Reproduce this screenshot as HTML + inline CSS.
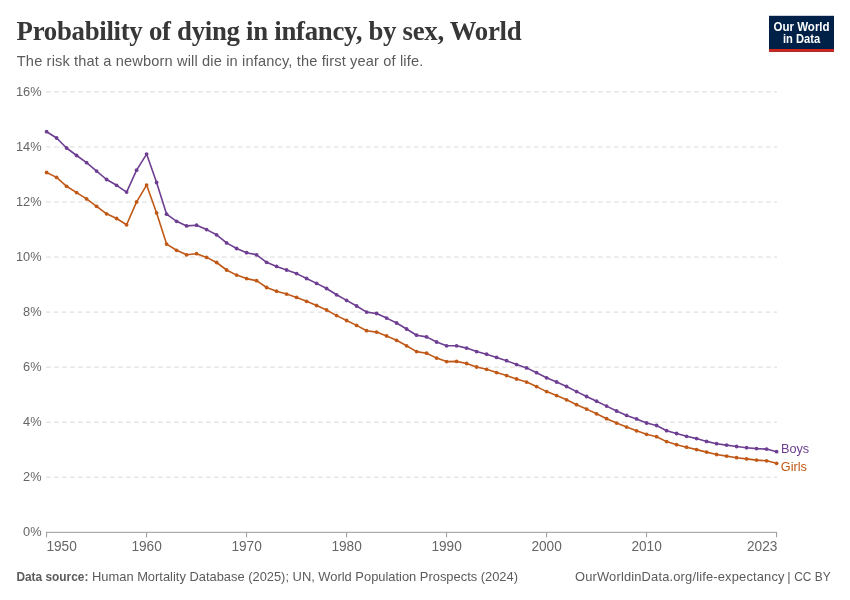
<!DOCTYPE html>
<html><head><meta charset="utf-8"><title>Probability of dying in infancy, by sex, World</title>
<style>
html,body{margin:0;padding:0;background:#fff;}
body{width:850px;height:600px;overflow:hidden;position:relative;font-family:"Liberation Sans",sans-serif;}
svg{position:absolute;left:0;top:0;will-change:transform;}
svg text{font-family:"Liberation Sans",sans-serif;}
.title{font-family:"Liberation Serif",serif;font-weight:bold;font-size:26.8px;fill:#373737;}
.sub{font-size:14.6px;fill:#5b5b5b;}
.ax text{font-size:14.1px;fill:#666;} .ax text.yl{font-size:12.8px;}
.grid line{stroke:#dbdbdb;stroke-width:1;stroke-dasharray:4.8,3.2;}
.axis line{stroke:#999;stroke-width:1;}
.foot{font-size:12.9px;fill:#5b5b5b;}
.logo text{font-size:12.2px;font-weight:bold;fill:#fff;}
</style></head><body>
<svg width="850" height="600" viewBox="0 0 850 600">
<rect width="850" height="600" fill="#fff"/>
<text class="title" x="16.6" y="40" textLength="505" lengthAdjust="spacing">Probability of dying in infancy, by sex, World</text>
<text class="sub" x="16.8" y="66.2" textLength="406.5" lengthAdjust="spacing">The risk that a newborn will die in infancy, the first year of life.</text>
<g class="logo"><rect x="769" y="15.8" width="65" height="36" fill="#002147"/><rect x="769" y="49" width="65" height="2.8" fill="#ce261e"/>
<text x="773.6" y="31" textLength="56" lengthAdjust="spacingAndGlyphs">Our World</text><text x="783" y="42.9" textLength="37.2" lengthAdjust="spacingAndGlyphs">in Data</text></g>
<g class="grid"><line x1="46" x2="777" y1="477.25" y2="477.25"/><line x1="46" x2="777" y1="422.20" y2="422.20"/><line x1="46" x2="777" y1="367.15" y2="367.15"/><line x1="46" x2="777" y1="312.10" y2="312.10"/><line x1="46" x2="777" y1="257.05" y2="257.05"/><line x1="46" x2="777" y1="202.00" y2="202.00"/><line x1="46" x2="777" y1="146.95" y2="146.95"/><line x1="46" x2="777" y1="91.90" y2="91.90"/></g>
<g class="ax"><text class="yl" x="41.6" y="536.40" text-anchor="end">0%</text><text class="yl" x="41.6" y="481.35" text-anchor="end">2%</text><text class="yl" x="41.6" y="426.30" text-anchor="end">4%</text><text class="yl" x="41.6" y="371.25" text-anchor="end">6%</text><text class="yl" x="41.6" y="316.20" text-anchor="end">8%</text><text class="yl" x="41.6" y="261.15" text-anchor="end">10%</text><text class="yl" x="41.6" y="206.10" text-anchor="end">12%</text><text class="yl" x="41.6" y="151.05" text-anchor="end">14%</text><text class="yl" x="41.6" y="96.00" text-anchor="end">16%</text><text x="46.4" y="551.0" text-anchor="start" textLength="30.4" lengthAdjust="spacingAndGlyphs">1950</text><text x="146.6" y="551.0" text-anchor="middle" textLength="30.4" lengthAdjust="spacingAndGlyphs">1960</text><text x="246.6" y="551.0" text-anchor="middle" textLength="30.4" lengthAdjust="spacingAndGlyphs">1970</text><text x="346.6" y="551.0" text-anchor="middle" textLength="30.4" lengthAdjust="spacingAndGlyphs">1980</text><text x="446.6" y="551.0" text-anchor="middle" textLength="30.4" lengthAdjust="spacingAndGlyphs">1990</text><text x="546.6" y="551.0" text-anchor="middle" textLength="30.4" lengthAdjust="spacingAndGlyphs">2000</text><text x="646.6" y="551.0" text-anchor="middle" textLength="30.4" lengthAdjust="spacingAndGlyphs">2010</text><text x="777.4" y="551.0" text-anchor="end" textLength="30.4" lengthAdjust="spacingAndGlyphs">2023</text></g>
<g class="axis"><line x1="46" x2="777" y1="532.3" y2="532.3"/><line x1="46.6" x2="46.6" y1="532.3" y2="537.3"/><line x1="146.6" x2="146.6" y1="532.3" y2="537.3"/><line x1="246.6" x2="246.6" y1="532.3" y2="537.3"/><line x1="346.6" x2="346.6" y1="532.3" y2="537.3"/><line x1="446.6" x2="446.6" y1="532.3" y2="537.3"/><line x1="546.6" x2="546.6" y1="532.3" y2="537.3"/><line x1="646.6" x2="646.6" y1="532.3" y2="537.3"/><line x1="776.6" x2="776.6" y1="532.3" y2="537.3"/></g>
<polyline fill="none" stroke="#c05917" stroke-width="1.6" stroke-linejoin="round" stroke-linecap="round" points="46.6,172.5 56.6,177.4 66.6,186.3 76.6,192.6 86.6,198.9 96.6,206.3 106.6,213.8 116.6,218.5 126.6,224.8 136.6,201.9 146.6,185.1 156.6,212.9 166.6,244.1 176.6,250.3 186.6,254.8 196.6,253.7 206.6,257.4 216.6,262.5 226.6,270.0 236.6,275.1 246.6,278.6 256.6,280.7 266.6,287.5 276.6,291.2 286.6,294.1 296.6,297.4 306.6,301.3 316.6,305.5 326.6,310.0 336.6,315.6 346.6,320.5 356.6,325.4 366.6,330.7 376.6,332.1 386.6,335.9 396.6,340.3 406.6,345.8 416.6,351.6 426.6,353.2 436.6,358.1 446.6,361.6 456.6,361.4 466.6,363.5 476.6,367.0 486.6,369.3 496.6,372.6 506.6,375.6 516.6,379.0 526.6,382.1 536.6,386.6 546.6,391.6 556.6,395.6 566.6,399.8 576.6,404.7 586.6,409.1 596.6,413.8 606.6,418.7 616.6,423.1 626.6,427.1 636.6,430.8 646.6,434.3 656.6,436.7 666.6,441.6 676.6,444.7 686.6,447.2 696.6,449.6 706.6,452.1 716.6,454.5 726.6,456.1 736.6,457.7 746.6,458.9 756.6,460.1 766.6,460.8 776.6,463.3"/>
<circle cx="46.6" cy="172.5" r="1.9" fill="#c05917"/><circle cx="56.6" cy="177.4" r="1.9" fill="#c05917"/><circle cx="66.6" cy="186.3" r="1.9" fill="#c05917"/><circle cx="76.6" cy="192.6" r="1.9" fill="#c05917"/><circle cx="86.6" cy="198.9" r="1.9" fill="#c05917"/><circle cx="96.6" cy="206.3" r="1.9" fill="#c05917"/><circle cx="106.6" cy="213.8" r="1.9" fill="#c05917"/><circle cx="116.6" cy="218.5" r="1.9" fill="#c05917"/><circle cx="126.6" cy="224.8" r="1.9" fill="#c05917"/><circle cx="136.6" cy="201.9" r="1.9" fill="#c05917"/><circle cx="146.6" cy="185.1" r="1.9" fill="#c05917"/><circle cx="156.6" cy="212.9" r="1.9" fill="#c05917"/><circle cx="166.6" cy="244.1" r="1.9" fill="#c05917"/><circle cx="176.6" cy="250.3" r="1.9" fill="#c05917"/><circle cx="186.6" cy="254.8" r="1.9" fill="#c05917"/><circle cx="196.6" cy="253.7" r="1.9" fill="#c05917"/><circle cx="206.6" cy="257.4" r="1.9" fill="#c05917"/><circle cx="216.6" cy="262.5" r="1.9" fill="#c05917"/><circle cx="226.6" cy="270.0" r="1.9" fill="#c05917"/><circle cx="236.6" cy="275.1" r="1.9" fill="#c05917"/><circle cx="246.6" cy="278.6" r="1.9" fill="#c05917"/><circle cx="256.6" cy="280.7" r="1.9" fill="#c05917"/><circle cx="266.6" cy="287.5" r="1.9" fill="#c05917"/><circle cx="276.6" cy="291.2" r="1.9" fill="#c05917"/><circle cx="286.6" cy="294.1" r="1.9" fill="#c05917"/><circle cx="296.6" cy="297.4" r="1.9" fill="#c05917"/><circle cx="306.6" cy="301.3" r="1.9" fill="#c05917"/><circle cx="316.6" cy="305.5" r="1.9" fill="#c05917"/><circle cx="326.6" cy="310.0" r="1.9" fill="#c05917"/><circle cx="336.6" cy="315.6" r="1.9" fill="#c05917"/><circle cx="346.6" cy="320.5" r="1.9" fill="#c05917"/><circle cx="356.6" cy="325.4" r="1.9" fill="#c05917"/><circle cx="366.6" cy="330.7" r="1.9" fill="#c05917"/><circle cx="376.6" cy="332.1" r="1.9" fill="#c05917"/><circle cx="386.6" cy="335.9" r="1.9" fill="#c05917"/><circle cx="396.6" cy="340.3" r="1.9" fill="#c05917"/><circle cx="406.6" cy="345.8" r="1.9" fill="#c05917"/><circle cx="416.6" cy="351.6" r="1.9" fill="#c05917"/><circle cx="426.6" cy="353.2" r="1.9" fill="#c05917"/><circle cx="436.6" cy="358.1" r="1.9" fill="#c05917"/><circle cx="446.6" cy="361.6" r="1.9" fill="#c05917"/><circle cx="456.6" cy="361.4" r="1.9" fill="#c05917"/><circle cx="466.6" cy="363.5" r="1.9" fill="#c05917"/><circle cx="476.6" cy="367.0" r="1.9" fill="#c05917"/><circle cx="486.6" cy="369.3" r="1.9" fill="#c05917"/><circle cx="496.6" cy="372.6" r="1.9" fill="#c05917"/><circle cx="506.6" cy="375.6" r="1.9" fill="#c05917"/><circle cx="516.6" cy="379.0" r="1.9" fill="#c05917"/><circle cx="526.6" cy="382.1" r="1.9" fill="#c05917"/><circle cx="536.6" cy="386.6" r="1.9" fill="#c05917"/><circle cx="546.6" cy="391.6" r="1.9" fill="#c05917"/><circle cx="556.6" cy="395.6" r="1.9" fill="#c05917"/><circle cx="566.6" cy="399.8" r="1.9" fill="#c05917"/><circle cx="576.6" cy="404.7" r="1.9" fill="#c05917"/><circle cx="586.6" cy="409.1" r="1.9" fill="#c05917"/><circle cx="596.6" cy="413.8" r="1.9" fill="#c05917"/><circle cx="606.6" cy="418.7" r="1.9" fill="#c05917"/><circle cx="616.6" cy="423.1" r="1.9" fill="#c05917"/><circle cx="626.6" cy="427.1" r="1.9" fill="#c05917"/><circle cx="636.6" cy="430.8" r="1.9" fill="#c05917"/><circle cx="646.6" cy="434.3" r="1.9" fill="#c05917"/><circle cx="656.6" cy="436.7" r="1.9" fill="#c05917"/><circle cx="666.6" cy="441.6" r="1.9" fill="#c05917"/><circle cx="676.6" cy="444.7" r="1.9" fill="#c05917"/><circle cx="686.6" cy="447.2" r="1.9" fill="#c05917"/><circle cx="696.6" cy="449.6" r="1.9" fill="#c05917"/><circle cx="706.6" cy="452.1" r="1.9" fill="#c05917"/><circle cx="716.6" cy="454.5" r="1.9" fill="#c05917"/><circle cx="726.6" cy="456.1" r="1.9" fill="#c05917"/><circle cx="736.6" cy="457.7" r="1.9" fill="#c05917"/><circle cx="746.6" cy="458.9" r="1.9" fill="#c05917"/><circle cx="756.6" cy="460.1" r="1.9" fill="#c05917"/><circle cx="766.6" cy="460.8" r="1.9" fill="#c05917"/><circle cx="776.6" cy="463.3" r="1.9" fill="#c05917"/>
<polyline fill="none" stroke="#6d3e91" stroke-width="1.6" stroke-linejoin="round" stroke-linecap="round" points="46.6,131.7 56.6,138.0 66.6,148.0 76.6,155.5 86.6,162.7 96.6,171.1 106.6,179.5 116.6,185.3 126.6,192.1 136.6,170.2 146.6,154.1 156.6,182.5 166.6,214.2 176.6,221.3 186.6,225.9 196.6,225.2 206.6,229.6 216.6,234.8 226.6,242.9 236.6,248.5 246.6,252.7 256.6,254.8 266.6,262.3 276.6,266.4 286.6,270.0 296.6,273.6 306.6,278.5 316.6,283.4 326.6,288.5 336.6,294.8 346.6,300.4 356.6,306.0 366.6,312.1 376.6,313.5 386.6,318.1 396.6,323.0 406.6,329.0 416.6,335.2 426.6,336.9 436.6,342.0 446.6,345.8 456.6,345.8 466.6,348.1 476.6,351.6 486.6,354.2 496.6,357.4 506.6,360.7 516.6,364.6 526.6,367.9 536.6,372.7 546.6,377.8 556.6,382.0 566.6,386.5 576.6,391.6 586.6,396.5 596.6,401.2 606.6,406.1 616.6,411.0 626.6,415.4 636.6,418.9 646.6,423.0 656.6,425.5 666.6,430.7 676.6,433.5 686.6,436.3 696.6,438.6 706.6,441.4 716.6,443.7 726.6,445.1 736.6,446.5 746.6,447.7 756.6,448.6 766.6,449.1 776.6,451.7"/>
<circle cx="46.6" cy="131.7" r="1.9" fill="#6d3e91"/><circle cx="56.6" cy="138.0" r="1.9" fill="#6d3e91"/><circle cx="66.6" cy="148.0" r="1.9" fill="#6d3e91"/><circle cx="76.6" cy="155.5" r="1.9" fill="#6d3e91"/><circle cx="86.6" cy="162.7" r="1.9" fill="#6d3e91"/><circle cx="96.6" cy="171.1" r="1.9" fill="#6d3e91"/><circle cx="106.6" cy="179.5" r="1.9" fill="#6d3e91"/><circle cx="116.6" cy="185.3" r="1.9" fill="#6d3e91"/><circle cx="126.6" cy="192.1" r="1.9" fill="#6d3e91"/><circle cx="136.6" cy="170.2" r="1.9" fill="#6d3e91"/><circle cx="146.6" cy="154.1" r="1.9" fill="#6d3e91"/><circle cx="156.6" cy="182.5" r="1.9" fill="#6d3e91"/><circle cx="166.6" cy="214.2" r="1.9" fill="#6d3e91"/><circle cx="176.6" cy="221.3" r="1.9" fill="#6d3e91"/><circle cx="186.6" cy="225.9" r="1.9" fill="#6d3e91"/><circle cx="196.6" cy="225.2" r="1.9" fill="#6d3e91"/><circle cx="206.6" cy="229.6" r="1.9" fill="#6d3e91"/><circle cx="216.6" cy="234.8" r="1.9" fill="#6d3e91"/><circle cx="226.6" cy="242.9" r="1.9" fill="#6d3e91"/><circle cx="236.6" cy="248.5" r="1.9" fill="#6d3e91"/><circle cx="246.6" cy="252.7" r="1.9" fill="#6d3e91"/><circle cx="256.6" cy="254.8" r="1.9" fill="#6d3e91"/><circle cx="266.6" cy="262.3" r="1.9" fill="#6d3e91"/><circle cx="276.6" cy="266.4" r="1.9" fill="#6d3e91"/><circle cx="286.6" cy="270.0" r="1.9" fill="#6d3e91"/><circle cx="296.6" cy="273.6" r="1.9" fill="#6d3e91"/><circle cx="306.6" cy="278.5" r="1.9" fill="#6d3e91"/><circle cx="316.6" cy="283.4" r="1.9" fill="#6d3e91"/><circle cx="326.6" cy="288.5" r="1.9" fill="#6d3e91"/><circle cx="336.6" cy="294.8" r="1.9" fill="#6d3e91"/><circle cx="346.6" cy="300.4" r="1.9" fill="#6d3e91"/><circle cx="356.6" cy="306.0" r="1.9" fill="#6d3e91"/><circle cx="366.6" cy="312.1" r="1.9" fill="#6d3e91"/><circle cx="376.6" cy="313.5" r="1.9" fill="#6d3e91"/><circle cx="386.6" cy="318.1" r="1.9" fill="#6d3e91"/><circle cx="396.6" cy="323.0" r="1.9" fill="#6d3e91"/><circle cx="406.6" cy="329.0" r="1.9" fill="#6d3e91"/><circle cx="416.6" cy="335.2" r="1.9" fill="#6d3e91"/><circle cx="426.6" cy="336.9" r="1.9" fill="#6d3e91"/><circle cx="436.6" cy="342.0" r="1.9" fill="#6d3e91"/><circle cx="446.6" cy="345.8" r="1.9" fill="#6d3e91"/><circle cx="456.6" cy="345.8" r="1.9" fill="#6d3e91"/><circle cx="466.6" cy="348.1" r="1.9" fill="#6d3e91"/><circle cx="476.6" cy="351.6" r="1.9" fill="#6d3e91"/><circle cx="486.6" cy="354.2" r="1.9" fill="#6d3e91"/><circle cx="496.6" cy="357.4" r="1.9" fill="#6d3e91"/><circle cx="506.6" cy="360.7" r="1.9" fill="#6d3e91"/><circle cx="516.6" cy="364.6" r="1.9" fill="#6d3e91"/><circle cx="526.6" cy="367.9" r="1.9" fill="#6d3e91"/><circle cx="536.6" cy="372.7" r="1.9" fill="#6d3e91"/><circle cx="546.6" cy="377.8" r="1.9" fill="#6d3e91"/><circle cx="556.6" cy="382.0" r="1.9" fill="#6d3e91"/><circle cx="566.6" cy="386.5" r="1.9" fill="#6d3e91"/><circle cx="576.6" cy="391.6" r="1.9" fill="#6d3e91"/><circle cx="586.6" cy="396.5" r="1.9" fill="#6d3e91"/><circle cx="596.6" cy="401.2" r="1.9" fill="#6d3e91"/><circle cx="606.6" cy="406.1" r="1.9" fill="#6d3e91"/><circle cx="616.6" cy="411.0" r="1.9" fill="#6d3e91"/><circle cx="626.6" cy="415.4" r="1.9" fill="#6d3e91"/><circle cx="636.6" cy="418.9" r="1.9" fill="#6d3e91"/><circle cx="646.6" cy="423.0" r="1.9" fill="#6d3e91"/><circle cx="656.6" cy="425.5" r="1.9" fill="#6d3e91"/><circle cx="666.6" cy="430.7" r="1.9" fill="#6d3e91"/><circle cx="676.6" cy="433.5" r="1.9" fill="#6d3e91"/><circle cx="686.6" cy="436.3" r="1.9" fill="#6d3e91"/><circle cx="696.6" cy="438.6" r="1.9" fill="#6d3e91"/><circle cx="706.6" cy="441.4" r="1.9" fill="#6d3e91"/><circle cx="716.6" cy="443.7" r="1.9" fill="#6d3e91"/><circle cx="726.6" cy="445.1" r="1.9" fill="#6d3e91"/><circle cx="736.6" cy="446.5" r="1.9" fill="#6d3e91"/><circle cx="746.6" cy="447.7" r="1.9" fill="#6d3e91"/><circle cx="756.6" cy="448.6" r="1.9" fill="#6d3e91"/><circle cx="766.6" cy="449.1" r="1.9" fill="#6d3e91"/><circle cx="776.6" cy="451.7" r="1.9" fill="#6d3e91"/>
<text x="781" y="453" font-size="12.7" fill="#6d3e91">Boys</text>
<text x="780.8" y="471.3" font-size="12.7" fill="#c05917">Girls</text>
<text class="foot" x="16.4" y="581.2" font-weight="bold" textLength="72" lengthAdjust="spacingAndGlyphs">Data source:</text>
<text class="foot" x="92" y="581.2" textLength="426" lengthAdjust="spacing">Human Mortality Database (2025); UN, World Population Prospects (2024)</text>
<text class="foot" x="575" y="581.2" textLength="209.5" lengthAdjust="spacing">OurWorldinData.org/life-expectancy</text>
<text class="foot" x="787.2" y="581.2">|</text><text class="foot" x="794.2" y="581.2" textLength="36.4" lengthAdjust="spacingAndGlyphs">CC BY</text>
</svg>
</body></html>
